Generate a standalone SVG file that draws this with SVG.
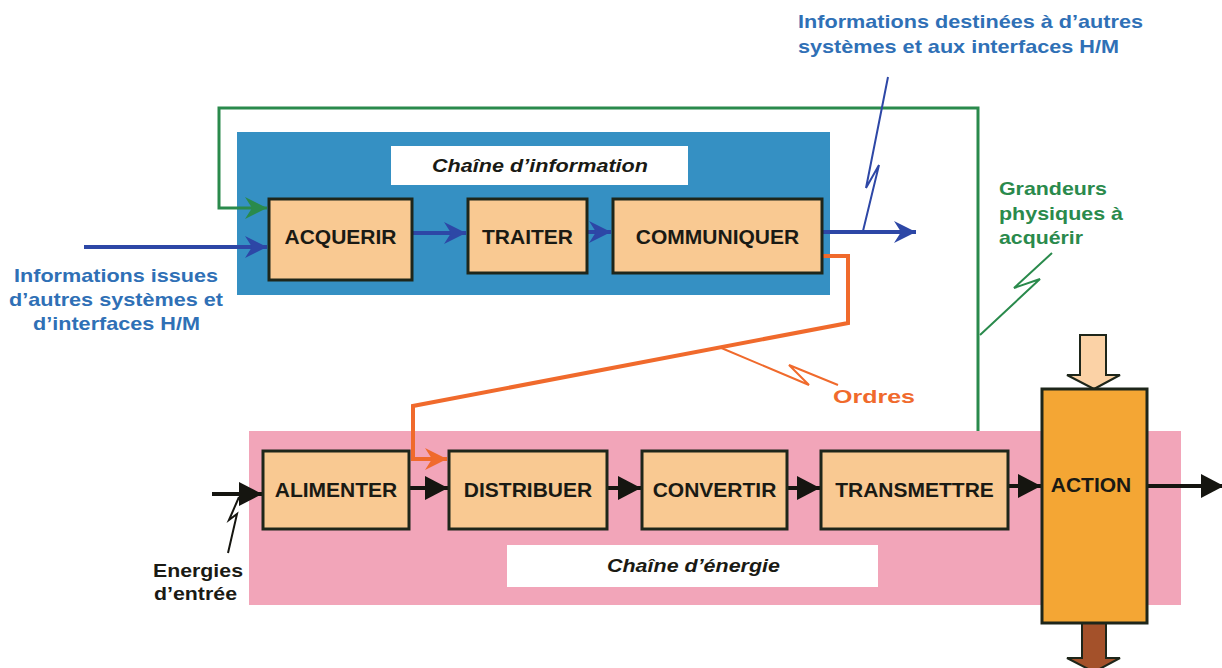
<svg xmlns="http://www.w3.org/2000/svg" width="1222" height="668" viewBox="0 0 1222 668">
<style>
  .box { fill: #f9c992; stroke: #1e261a; stroke-width: 3; }
  .lbl { font-family: "Liberation Sans", Arial, sans-serif; font-weight: bold; font-size: 21px; fill: #1a1a14; text-anchor: middle; }
  .title { font-family: "Liberation Sans", Arial, sans-serif; font-weight: bold; font-style: italic; font-size: 19px; fill: #1a1a14; }
  .note { font-family: "Liberation Sans", Arial, sans-serif; font-weight: bold; font-size: 18.5px; }
  .blue { fill: #2f70b6; }
  .green { fill: #2a8a4c; }
  .orange { fill: #f06a2c; }
  .dark { fill: #1a1a14; }
  .wblue { stroke: #2d47a6; stroke-width: 4; fill: none; }
  .wgreen { stroke: #2a8a4c; stroke-width: 3; fill: none; }
  .worange { stroke: #f06a2c; stroke-width: 4; fill: none; }
  .wblack { stroke: #151510; stroke-width: 4; fill: none; }
  .bolt { fill: none; stroke-width: 2; stroke-linejoin: miter; }
</style>
<defs>
  <marker id="mBlue" markerUnits="userSpaceOnUse" markerWidth="24" markerHeight="22" refX="22" refY="11" orient="auto">
    <path d="M0,0 L22,11 L0,22 L7,11 Z" fill="#2d47a6"/>
  </marker>
  <marker id="mGreen" markerUnits="userSpaceOnUse" markerWidth="24" markerHeight="22" refX="22" refY="11" orient="auto">
    <path d="M0,0 L22,11 L0,22 L7,11 Z" fill="#2a8a4c"/>
  </marker>
  <marker id="mOrange" markerUnits="userSpaceOnUse" markerWidth="24" markerHeight="22" refX="22" refY="11" orient="auto">
    <path d="M0,0 L22,11 L0,22 L7,11 Z" fill="#f06a2c"/>
  </marker>
  <marker id="mBlack" markerUnits="userSpaceOnUse" markerWidth="24" markerHeight="26" refX="23" refY="13" orient="auto">
    <path d="M0,1 L23,13 L0,25 Z" fill="#151510"/>
  </marker>
</defs>

<rect width="1222" height="668" fill="#ffffff"/>

<!-- panels -->
<g id="panel-information">
  <rect x="237" y="132" width="593" height="163" fill="#3590c3"/>
  <rect x="391" y="146" width="297" height="39" fill="#ffffff"/>
  <text class="title" x="432" y="172" textLength="216" lengthAdjust="spacingAndGlyphs">Chaîne d’information</text>
</g>
<g id="panel-energie">
  <rect x="249" y="431" width="932" height="174" fill="#f2a5b9"/>
  <rect x="507" y="545" width="371" height="42" fill="#ffffff"/>
  <text class="title" x="607" y="572" textLength="173" lengthAdjust="spacingAndGlyphs">Chaîne d’énergie</text>
</g>

<!-- connectors -->
<g id="connectors">
  <path class="wgreen" d="M978,431 V108 H219 V208 H267" marker-end="url(#mGreen)"/>
  <polyline class="bolt" stroke="#2a8a4c" points="980,335 1040,279 1014,288 1052,253"/>

  <path class="wblue" d="M84,247 H267" marker-end="url(#mBlue)"/>
  <path class="wblue" d="M412,233 H466" marker-end="url(#mBlue)"/>
  <path class="wblue" d="M587,232 H611" marker-end="url(#mBlue)"/>
  <path class="wblue" d="M822,232 H916" marker-end="url(#mBlue)"/>
  <polyline class="bolt" stroke="#2d47a6" stroke-width="1.6" points="888,77 866,188 879,165 863,231"/>

  <path class="worange" d="M822,256 H848 V323 L413,406 V459 H447" marker-end="url(#mOrange)"/>
  <polyline class="bolt" stroke="#f06a2c" points="719,347 809,385 789,365 838,385"/>

  <path class="wblack" d="M212,494 H262" marker-end="url(#mBlack)"/>
  <polyline class="bolt" stroke="#151510" points="239,497 229,520 237,514 228,553"/>
  <path class="wblack" d="M409,488 H448" marker-end="url(#mBlack)"/>
  <path class="wblack" d="M607,488 H641" marker-end="url(#mBlack)"/>
  <path class="wblack" d="M787,488 H820" marker-end="url(#mBlack)"/>
  <path class="wblack" d="M1008,486 H1041" marker-end="url(#mBlack)"/>
  <path class="wblack" d="M1147,486 H1224" marker-end="url(#mBlack)"/>

  <polygon points="1080,335 1106,335 1106,375 1120,375 1094,389 1067,375 1080,375" fill="#fbd2a6" stroke="#1e261a" stroke-width="2"/>
  <polygon points="1082,623 1106,623 1106,658 1120,658 1094,672 1067,658 1082,658" fill="#a4512a" stroke="#1e261a" stroke-width="2"/>
</g>

<!-- nodes -->
<g id="acquerir"><rect class="box" x="269" y="199" width="143" height="81"/><text class="lbl" x="340.5" y="244">ACQUERIR</text></g>
<g id="traiter"><rect class="box" x="468" y="199" width="119" height="74"/><text class="lbl" x="527.5" y="244">TRAITER</text></g>
<g id="communiquer"><rect class="box" x="613" y="199" width="209" height="74"/><text class="lbl" x="717.5" y="244">COMMUNIQUER</text></g>

<g id="alimenter"><rect class="box" x="263" y="451" width="146" height="78"/><text class="lbl" x="336" y="497">ALIMENTER</text></g>
<g id="distribuer"><rect class="box" x="449" y="451" width="158" height="78"/><text class="lbl" x="528" y="497">DISTRIBUER</text></g>
<g id="convertir"><rect class="box" x="642" y="451" width="145" height="78"/><text class="lbl" x="714.5" y="497">CONVERTIR</text></g>
<g id="transmettre"><rect class="box" x="821" y="451" width="187" height="78"/><text class="lbl" x="914.5" y="497">TRANSMETTRE</text></g>
<g id="action"><rect x="1042" y="389" width="105" height="234" fill="#f4a634" stroke="#1e261a" stroke-width="3"/><text class="lbl" x="1091" y="492">ACTION</text></g>

<!-- labels -->
<g id="label-info-out">
  <text class="note blue" x="798" y="28" textLength="345" lengthAdjust="spacingAndGlyphs">Informations destinées à d’autres</text>
  <text class="note blue" x="798" y="53" textLength="321" lengthAdjust="spacingAndGlyphs">systèmes et aux interfaces H/M</text>
</g>
<g id="label-info-in">
  <text class="note blue" x="14" y="282" textLength="204" lengthAdjust="spacingAndGlyphs">Informations issues</text>
  <text class="note blue" x="9" y="306" textLength="214" lengthAdjust="spacingAndGlyphs">d’autres systèmes et</text>
  <text class="note blue" x="33" y="330" textLength="167" lengthAdjust="spacingAndGlyphs">d’interfaces H/M</text>
</g>
<g id="label-grandeurs">
  <text class="note green" x="999" y="195" textLength="108" lengthAdjust="spacingAndGlyphs">Grandeurs</text>
  <text class="note green" x="999" y="220" textLength="124" lengthAdjust="spacingAndGlyphs">physiques à</text>
  <text class="note green" x="999" y="244" textLength="84" lengthAdjust="spacingAndGlyphs">acquérir</text>
</g>
<g id="label-ordres">
  <text class="note orange" x="833" y="403" textLength="82" lengthAdjust="spacingAndGlyphs">Ordres</text>
</g>
<g id="label-energies">
  <text class="note dark" x="153" y="577" textLength="90" lengthAdjust="spacingAndGlyphs">Energies</text>
  <text class="note dark" x="154" y="600" textLength="83" lengthAdjust="spacingAndGlyphs">d’entrée</text>
</g>
</svg>
